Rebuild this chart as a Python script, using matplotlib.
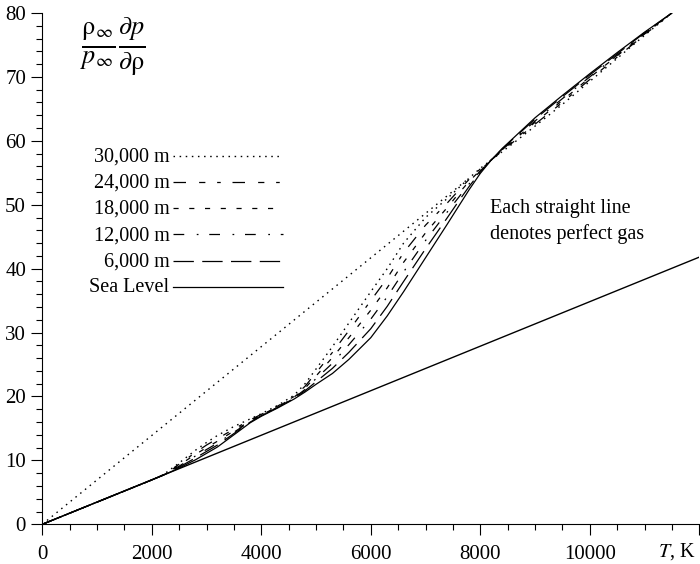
import numpy as np
import matplotlib.pyplot as plt
from matplotlib.ticker import MultipleLocator

plt.rcParams['font.family'] = ['Liberation Serif', 'DejaVu Serif']
plt.rcParams['mathtext.fontset'] = 'stix'

# temperature grid, K
T = [0, 1000, 2000, 2200, 2500, 2800, 3000, 3200, 3500, 3800, 4000, 4300, 4600,
     4800, 5000, 5300, 5600, 6000, 6300, 6600, 7000, 7400, 7600, 7800, 8000,
     8200, 8400, 8600, 9000, 9500, 10000, 10500, 11000, 11500]

# (rho_inf/p_inf) dp/drho for equilibrium air at each altitude
alt_30km = [0, 3.47, 6.94, 7.7, 9.6, 11.6, 12.8, 13.9, 15.3, 16.5, 17.3, 18.6, 20.2,
            22.0, 24.3, 27.8, 31.5, 36.4, 40.0, 44.0, 48.0, 51.0, 52.6, 54.2, 55.7,
            57.0, 58.3, 59.6, 62.3, 65.7, 69.3, 72.9, 76.5, 80.0]
alt_24km = [0, 3.47, 6.94, 7.69, 9.4, 11.25, 12.4, 13.4, 14.9, 16.35, 17.2, 18.5, 20.0,
            21.6, 23.7, 26.9, 30.3, 35.0, 38.5, 42.5, 46.8, 50.3, 52.2, 54.0, 55.6,
            57.0, 58.4, 59.8, 62.6, 66.0, 69.6, 73.1, 76.6, 80.0]
alt_18km = [0, 3.47, 6.94, 7.68, 9.25, 10.95, 12.0, 13.0, 14.6, 16.2, 17.1, 18.4, 19.9,
            21.3, 23.2, 26.1, 29.2, 33.5, 37.0, 41.0, 45.6, 49.6, 51.7, 53.7, 55.4,
            57.0, 58.5, 60.0, 62.9, 66.3, 69.9, 73.3, 76.7, 80.0]
alt_12km = [0, 3.47, 6.94, 7.67, 9.1, 10.7, 11.7, 12.7, 14.4, 16.1, 17.0, 18.3, 19.8,
            21.1, 22.8, 25.2, 28.1, 32.1, 35.6, 39.5, 44.4, 48.9, 51.1, 53.3, 55.3,
            57.0, 58.6, 60.1, 63.1, 66.6, 70.0, 73.4, 76.8, 80.0]
alt_6km = [0, 3.47, 6.94, 7.66, 8.95, 10.4, 11.4, 12.4, 14.2, 16.0, 17.0, 18.3, 19.7,
           20.9, 22.3, 24.4, 26.9, 30.6, 34.1, 38.0, 43.1, 48.0, 50.5, 52.9, 55.1,
           57.0, 58.7, 60.3, 63.4, 66.9, 70.3, 73.6, 76.9, 80.0]
sea_level = [0, 3.47, 6.94, 7.64, 8.8, 10.1, 11.1, 12.1, 14.0, 15.9, 16.9, 18.2, 19.6,
             20.7, 21.9, 23.6, 25.8, 29.2, 32.6, 36.4, 41.7, 47.0, 49.7, 52.4, 54.9,
             57.0, 58.8, 60.4, 63.6, 67.1, 70.5, 73.8, 77.0, 80.0]

labels = ['30,000 m', '24,000 m', '18,000 m', '12,000 m', '6,000 m', 'Sea Level']

# perfect gas straight lines
gas_sl_T = [0, 12000]
gas_sl = [0, 41.8]
gas_30_T = [0, 7800]
gas_30 = [0, 54.2]

series = [alt_30km, alt_24km, alt_18km, alt_12km, alt_6km, sea_level]
styles = [(0, (1.1, 3.3)),
          (0, (10, 10.5, 5, 9.4, 2.9, 9.4)),
          (0, (4.1, 8.5)),
          (0, (8.6, 10, 1.4, 8.6)),
          (0, (16.3, 6.7)),
          '-']
widths = [1.0, 0.9, 0.9, 0.9, 0.9, 0.9]

fig = plt.figure(figsize=(7, 5.64), dpi=100)
ax = fig.add_axes([0.0604, 0.0704, 0.9386, 0.9066])

for y, ls, lw in zip(series, styles, widths):
    ax.plot(T, y, color='k', lw=lw, linestyle=ls)

ax.plot(gas_sl_T, gas_sl, color='k', lw=1.0)
ax.plot(gas_30_T, gas_30, color='k', lw=1.0, linestyle=(0, (1.1, 3.3)))

# key, text on the left of each line sample
for i, (lab, ls, lw) in enumerate(zip(labels, styles, widths)):
    yy = 0.7203 - i * 0.0511
    ax.plot([0.199, 0.3664], [yy, yy], transform=ax.transAxes, color='k', lw=lw, linestyle=ls)
    ax.text(0.1936, yy - 0.0112, lab, transform=ax.transAxes, ha='right', va='baseline', fontsize=14.5)

# y quantity, written as two fractions
ax.text(0.108, 0.933,
        r'$\frac{\mathrm{\rho}_\infty}{p_\infty}\frac{\partial p}{\partial \mathrm{\rho}}$',
        transform=ax.transAxes, ha='center', va='center', fontsize=27)

ax.text(8175, 48.7, 'Each straight line', ha='left', va='baseline', fontsize=14.5)
ax.text(8175, 44.6, 'denotes perfect gas', ha='left', va='baseline', fontsize=14.5)

ax.set_xlim(0, 12000)
ax.set_ylim(0, 80)
ax.set_xticks(np.arange(0, 12001, 2000))
ax.set_xticklabels(['0', '2000', '4000', '6000', '8000', '10000', ''])
ax.xaxis.set_minor_locator(MultipleLocator(500))
ax.yaxis.set_major_locator(MultipleLocator(10))
ax.yaxis.set_minor_locator(MultipleLocator(2))
ax.tick_params(which='major', length=7.7, width=0.8, direction='out', labelsize=15)
ax.tick_params(which='minor', length=4.5, width=0.8, direction='out')
ax.tick_params(axis='x', which='major', pad=7)
ax.tick_params(axis='y', which='major', pad=4)

# axis name sits in the tick label row, at the right end
ax.annotate(r'$T$, K', xy=(1.0, 0), xycoords='axes fraction', xytext=(-3, -12.3),
            textcoords='offset points', ha='right', va='top', fontsize=14.5)

for side in ['top', 'right']:
    ax.spines[side].set_visible(False)
for side in ['left', 'bottom']:
    ax.spines[side].set_linewidth(0.8)

fig.savefig('out.png', dpi=100)
